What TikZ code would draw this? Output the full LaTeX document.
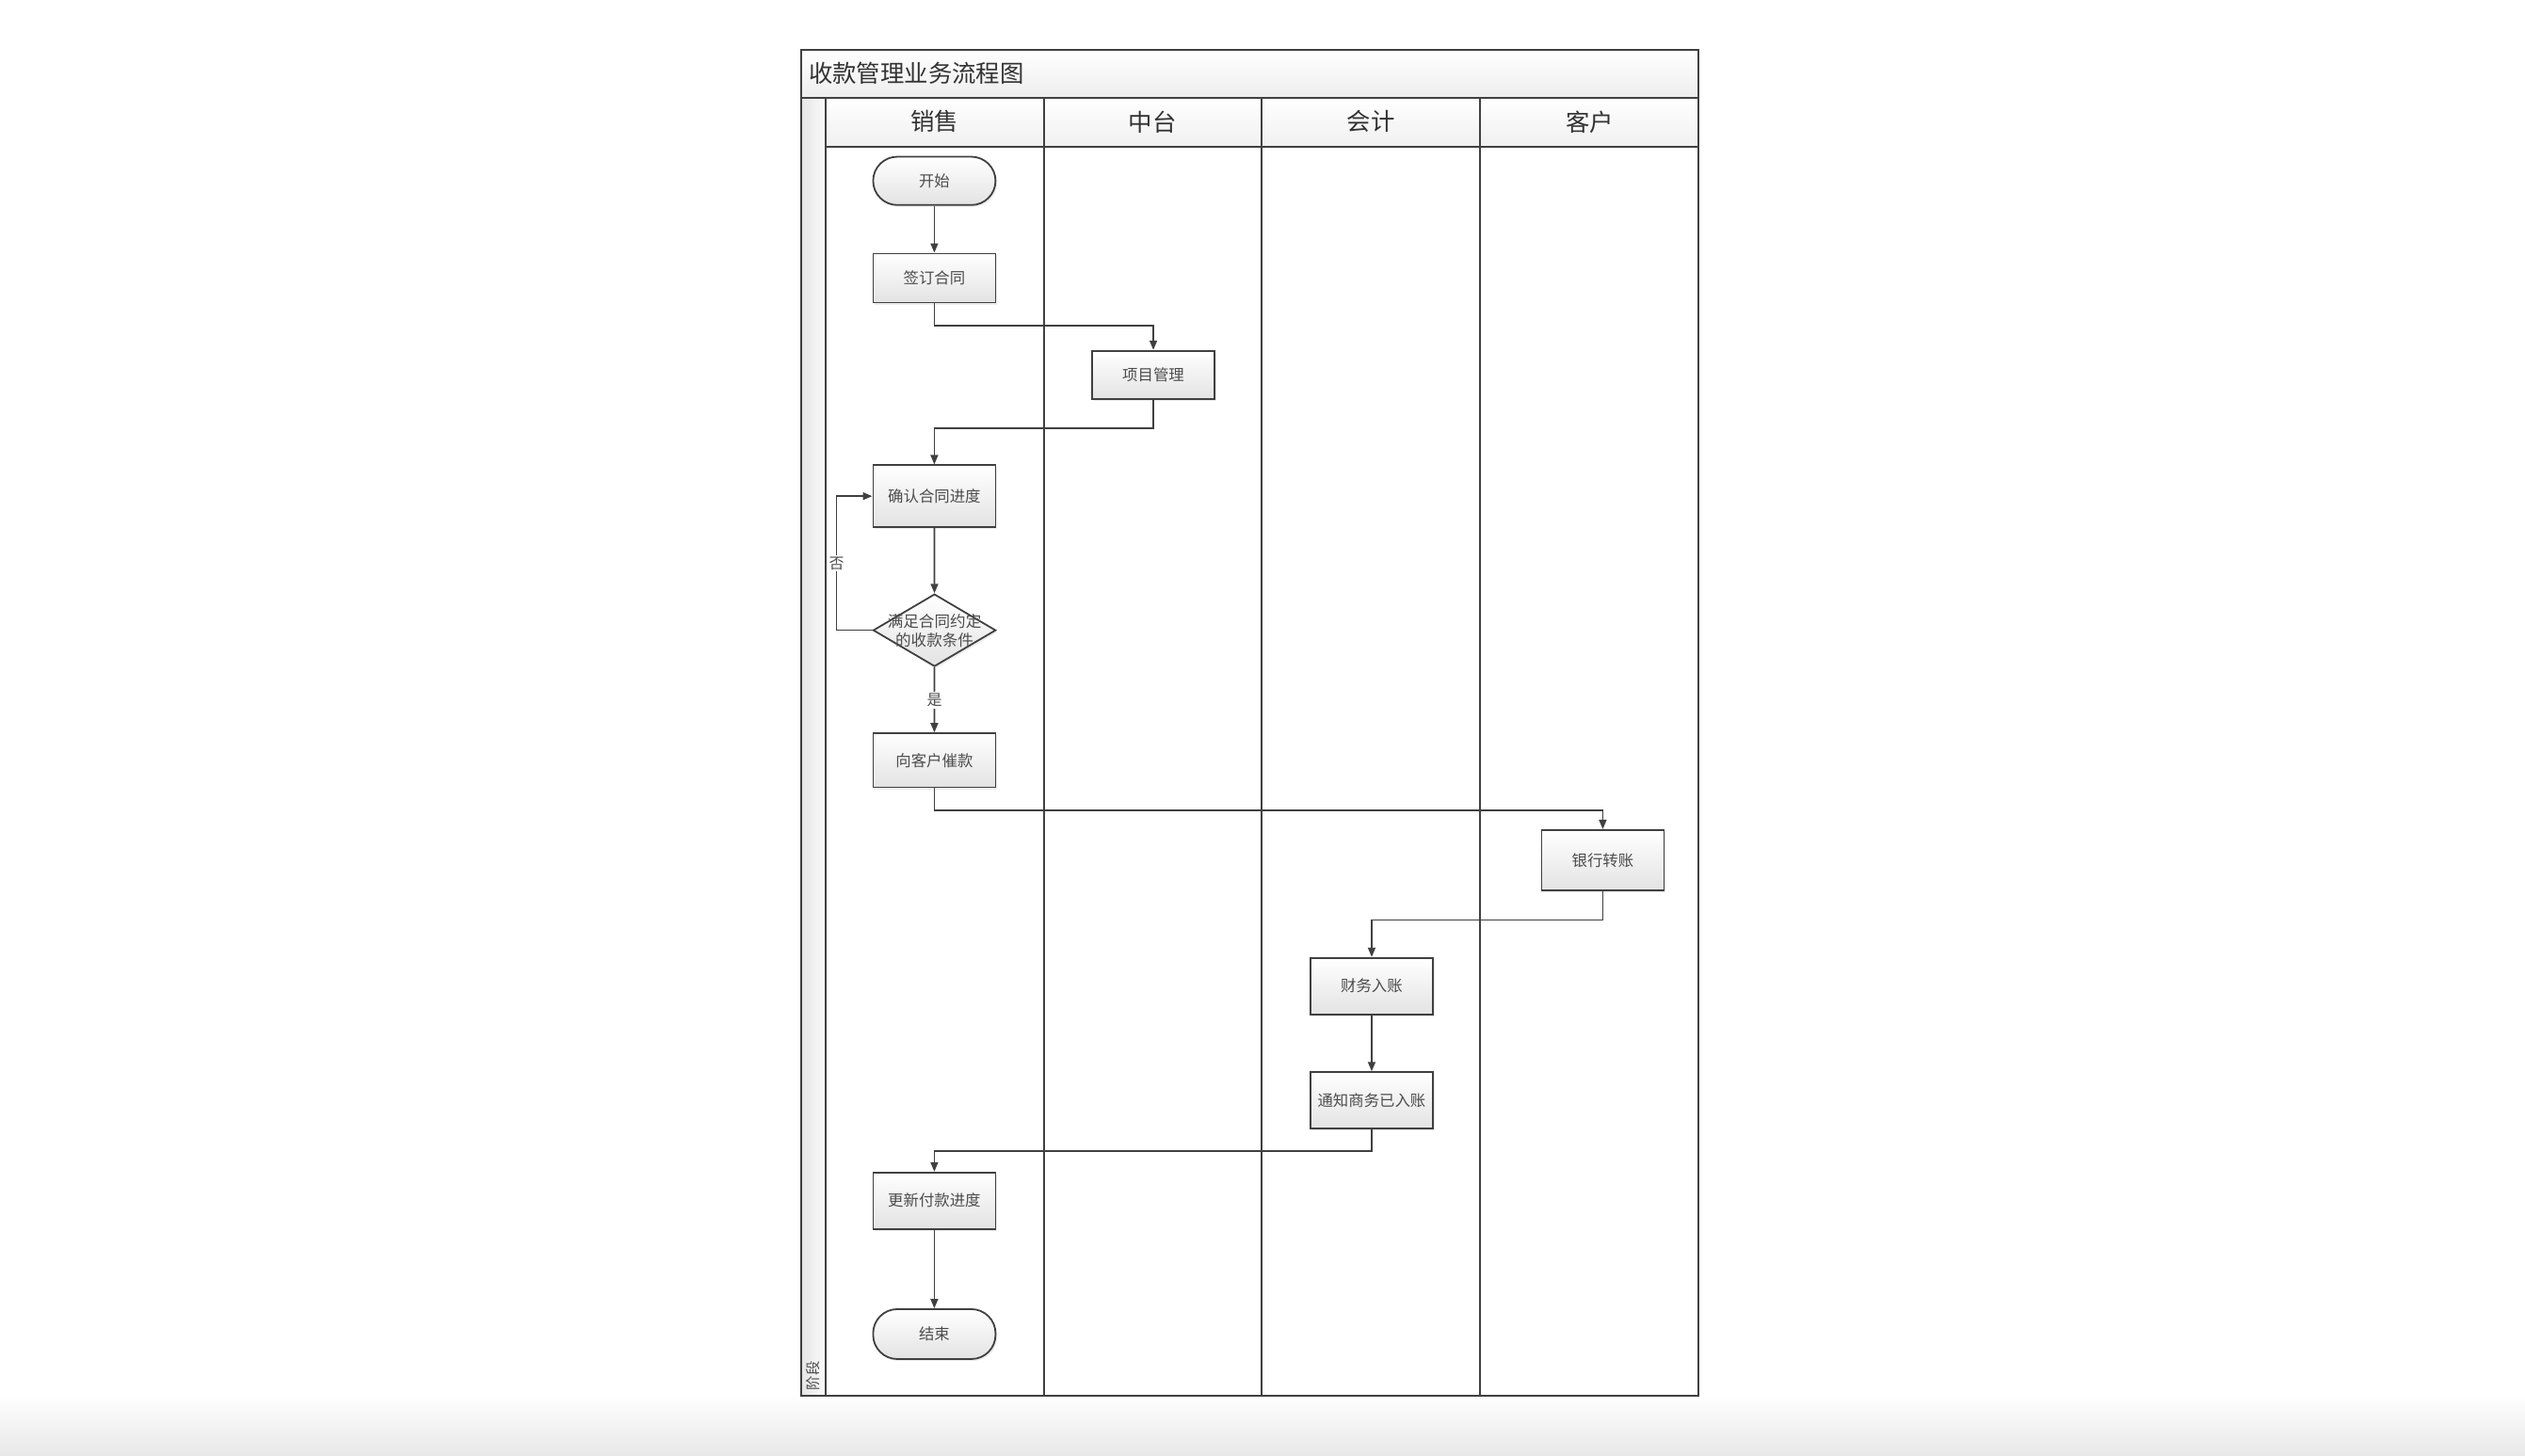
\documentclass[tikz,border=0pt]{standalone}
\usepackage{fontspec}
\newfontfamily\cjk{Noto Sans CJK SC}
\usetikzlibrary{arrows.meta,shapes.geometric,shadows}
\def\dpx{0.85523pt}
\begin{document}
\begin{tikzpicture}[x=0.85523pt,y=-0.85523pt,
  frame/.style={draw=black!75, line width=1pt},
  conn/.style={draw=black!75, line width=0.8pt, -{Triangle[length=5pt,width=4pt]}},
  box/.style={draw=black!75, line width=0.9pt, top color=white, bottom color=black!11,
    minimum width=76*\dpx, inner sep=0pt, text=black!70,
    font=\cjk\fontsize{8.2pt}{10pt}\selectfont,
    drop shadow={shadow xshift=1pt,shadow yshift=-1pt,opacity=0.15}},
  term/.style={box, rounded corners=15*\dpx, minimum height=30*\dpx},
  dia/.style={box, shape=diamond, minimum width=76.2*\dpx, minimum height=45*\dpx},
  lbl/.style={fill=white, inner sep=1pt, text=black!70, font=\cjk\fontsize{8pt}{9pt}\selectfont},
  head/.style={text=black!80, font=\cjk\fontsize{12.7pt}{15pt}\selectfont, inner sep=0pt}
]
\useasboundingbox (0,0) rectangle (1568,903.9);
\fill[white] (0,0) rectangle (1568,903.9);
\shade[top color=white, bottom color=black!9] (0,866) rectangle (1568,903.9);

% pool background
\shade[top color=white, bottom color=black!7] (497.5,30.8) rectangle (1054.9,60.8);
\shade[top color=white, bottom color=black!6] (512.5,60.8) rectangle (1054.9,91.2);
\shade[left color=black!10, right color=black!2] (497.5,60.8) rectangle (512.5,866.8);

% pool lines
\draw[frame] (497.5,30.8) rectangle (1054.9,866.8);
\draw[frame] (497.5,60.8) -- (1054.9,60.8);
\draw[frame] (512.5,91.2) -- (1054.9,91.2);
\draw[frame] (512.5,60.8) -- (512.5,866.8);
\draw[frame] (648.3,60.8) -- (648.3,866.8);
\draw[frame] (783.4,60.8) -- (783.4,866.8);
\draw[frame] (919.3,60.8) -- (919.3,866.8);

% titles
\node[head, anchor=west] (tTitle) at (502,45.2) {收款管理业务流程图};
\node[head] (hSales) at (580.4,75.6) {销售};
\node[head] (hMid) at (715.8,75.6) {中台};
\node[head] (hAcc) at (851.3,75.6) {会计};
\node[head] (hCust) at (987.1,75.6) {客户};
\node[rotate=90, text=black!70, inner sep=0pt, font=\cjk\fontsize{7.7pt}{9pt}\selectfont] (stage) at (505,854.5) {阶段};

% nodes
\node[term] (start) at (580.2,112.35) {开始};
\node[box, minimum height=30.5*\dpx] (sign) at (580.2,172.75) {签订合同};
\node[box, minimum height=30.1*\dpx] (proj) at (716.2,232.95) {项目管理};
\node[box, minimum height=38.4*\dpx] (conf) at (580.2,308.2) {确认合同进度};
\node[dia, label={[align=center, text=black!70, font=\cjk\fontsize{8.3pt}{10pt}\selectfont]center:满足合同约定\\的收款条件}] (dec) at (580.3,391.5) {};
\node[box, minimum height=33.6*\dpx] (pay) at (580.2,472.3) {向客户催款};
\node[box, minimum height=37.5*\dpx] (bank) at (995.3,534.3) {银行转账};
\node[box, minimum height=35*\dpx] (fin) at (851.8,612.5) {财务入账};
\node[box, minimum height=35*\dpx] (notif) at (851.8,683.5) {通知商务已入账};
\node[box, minimum height=35*\dpx] (upd) at (580.2,745.8) {更新付款进度};
\node[term, minimum height=31*\dpx] (end) at (580.2,828.7) {结束};

% connectors
\draw[conn] (start) -- (sign);
\draw[conn] (sign) |- ([yshift=15.2*\dpx]proj.north) -- (proj.north);
\draw[conn] (proj) |- ([yshift=22.3*\dpx]conf.north) -- (conf.north);
\draw[conn] (conf) -- (dec);
\draw[conn] (dec.west) -- ++(-22.2,0) |- node[pos=0.25, lbl] {否} (conf.west);
\draw[conn] (dec) -- node[lbl] {是} (pay);
\draw[conn] (pay) |- ([yshift=11.6*\dpx]bank.north) -- (bank.north);
\draw[conn] (bank) |- ([yshift=23*\dpx]fin.north) -- (fin.north);
\draw[conn] (fin) -- (notif);
\draw[conn] (notif) |- ([yshift=12.6*\dpx]upd.north) -- (upd.north);
\draw[conn] (upd) -- (end);
\end{tikzpicture}
\end{document}
